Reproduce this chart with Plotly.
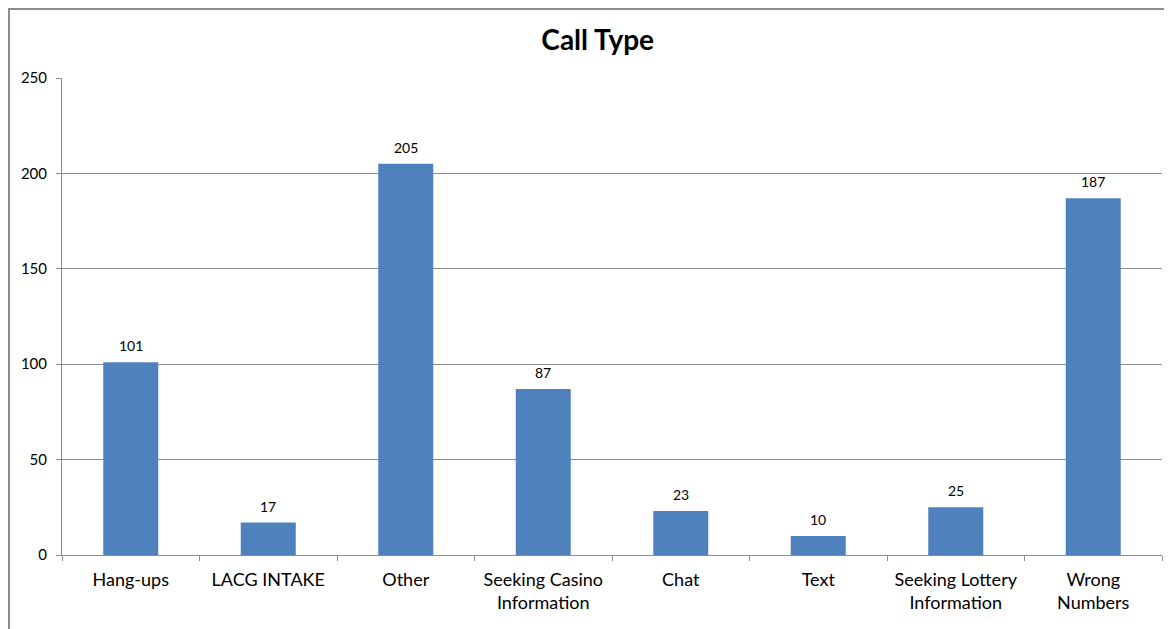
import plotly.graph_objects as go

categories = ["Hang-ups", "LACG INTAKE", "Other", "Seeking Casino<br>Information", "Chat", "Text",
              "Seeking Lottery<br>Information", "Wrong<br>Numbers"]
values = [101, 17, 205, 87, 23, 10, 25, 187]
y_ticks = [0, 50, 100, 150, 200, 250]

FONT = "Lato, 'Open Sans', sans-serif"
GRAY = "#8c8c8c"

fig = go.Figure(go.Bar(
    x=categories, y=values, width=0.4,
    marker=dict(color="#4f81bd", line=dict(width=0)),
))

# value labels above bars
for c, v in zip(categories, values):
    fig.add_annotation(x=c, y=v, text=str(v), showarrow=False, yanchor="bottom",
                       yshift=6, font=dict(family=FONT, size=14, color="#000"))

# page body has an 8px offset; figure coordinates are page coordinates minus 8
OFF = 8
W, H = 1172 - OFF, 629 - OFF
ml, mt = 62 - OFF, 78 - OFF
pw, ph = 1100, 477
mr = W - ml - pw
mb = H - mt - ph

fig.update_layout(
    width=W, height=H,
    margin=dict(l=ml, r=mr, t=mt, b=mb, autoexpand=False),
    paper_bgcolor="white", plot_bgcolor="white",
    showlegend=False,
    title=dict(text="<b>Call Type</b>", x=0.487, xref="paper", y=1 - (40 - OFF) / H,
               yanchor="middle", xanchor="center",
               font=dict(family=FONT, size=28, color="#000")),
    xaxis=dict(tickson="boundaries", ticks="outside", ticklen=5, tickcolor=GRAY,
               showline=True, linecolor=GRAY, linewidth=1, showgrid=False,
               automargin=False, ticklabelstandoff=8,
               tickfont=dict(family=FONT, size=18, color="#000")),
    yaxis=dict(range=[0, 250], tickvals=y_ticks, ticks="outside", ticklen=5, tickcolor=GRAY,
               showline=True, linecolor=GRAY, linewidth=1, automargin=False,
               ticklabelstandoff=6,
               showgrid=True, gridcolor=GRAY, gridwidth=1, zeroline=False,
               tickfont=dict(family=FONT, size=15, color="#000")),
    shapes=[dict(type="rect", xref="paper", yref="paper",
                 x0=(9 - 62) / pw, x1=(1171 - 62) / pw,
                 y0=-0.3, y1=1 + (mt - 1) / ph,
                 line=dict(color=GRAY, width=2), layer="below")],
)

fig.write_html("out.html")
